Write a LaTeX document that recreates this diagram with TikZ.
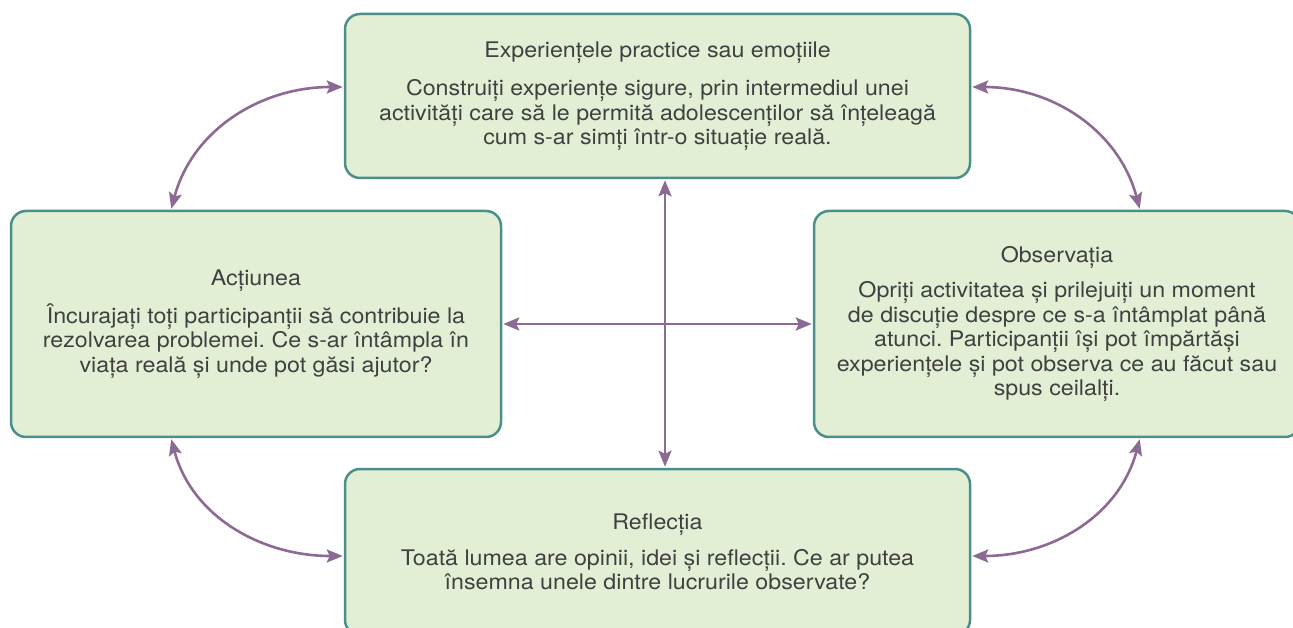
\documentclass[tikz,border=0pt]{standalone}
\usepackage{fontspec}
\setmainfont{TeX Gyre Heros}[FakeStretch=1.08]
\usepackage{xcolor}
\usepackage{tikz}
\usetikzlibrary{arrows.meta,positioning}
\frenchspacing

\definecolor{boxfill}{HTML}{E3EFD5}
\definecolor{boxline}{HTML}{4A8F89}
\definecolor{linkcol}{HTML}{8B6A94}
\definecolor{txtcol}{HTML}{404040}

\begin{document}
\begin{tikzpicture}[
    x=1pt, y=1pt,
    >={Stealth[length=16pt,width=13pt,inset=3pt]},
    box/.style={rectangle, draw=boxline, fill=boxfill, line width=2.5pt, rounded corners=15pt,
                align=center, text=txtcol, inner sep=0pt, font=\fontsize{21.5}{24.5}\selectfont},
    link/.style={<->, draw=linkcol, line width=2.6pt, shorten <=1pt, shorten >=1pt}
]
    \useasboundingbox (0,0) rectangle (1293,627);

    \node[box, minimum width=625pt, minimum height=164pt] (practice) at (657.5,531)
        {Experiențele practice sau emoțiile\\[14pt]
         Construiți experiențe sigure, prin intermediul unei\\
         activități care să le permită adolescenților să înțeleagă\\
         cum s-ar simți într-o situație reală.};
    \node[box, minimum width=490pt, minimum height=226pt] (actiune) at (256,303)
        {Acțiunea\\[11pt]
         Încurajați toți participanții să contribuie la\\
         rezolvarea problemei. Ce s-ar întâmpla în\\
         viața reală și unde pot găsi ajutor?};
    \node[box, minimum width=486pt, minimum height=226pt] (observatie) at (1057,303)
        {Observația\\[11pt]
         Opriți activitatea și prilejuiți un moment\\
         de discuție despre ce s-a întâmplat până\\
         atunci. Participanții își pot împărtăși\\
         experiențele și pot observa ce au făcut sau\\
         spus ceilalți.};
    \node[box, minimum width=625pt, minimum height=166pt] (reflectie) at (657.5,75)
        {Reflecția\\[11pt]
         Toată lumea are opinii, idei și reflecții. Ce ar putea\\
         însemna unele dintre lucrurile observate?};

    % cross in the middle
    \draw[link] ([xshift=7.5pt]practice.south) -- ([xshift=7.5pt]reflectie.north);
    \draw[link] (actiune.east) -- (observatie.west);

    % curved links round the corners
    \draw[link] ([xshift=-85pt]actiune.north) to[out=75, in=180] ([yshift=9pt]practice.west);
    \draw[link] ([yshift=9pt]practice.east) to[out=0, in=105] ([xshift=83pt]observatie.north);
    \draw[link] ([xshift=-85pt]actiune.south) to[out=-75, in=180] ([yshift=-4pt]reflectie.west);
    \draw[link] ([xshift=83pt]observatie.south) to[out=-105, in=0] ([yshift=-4pt]reflectie.east);
\end{tikzpicture}
\end{document}
